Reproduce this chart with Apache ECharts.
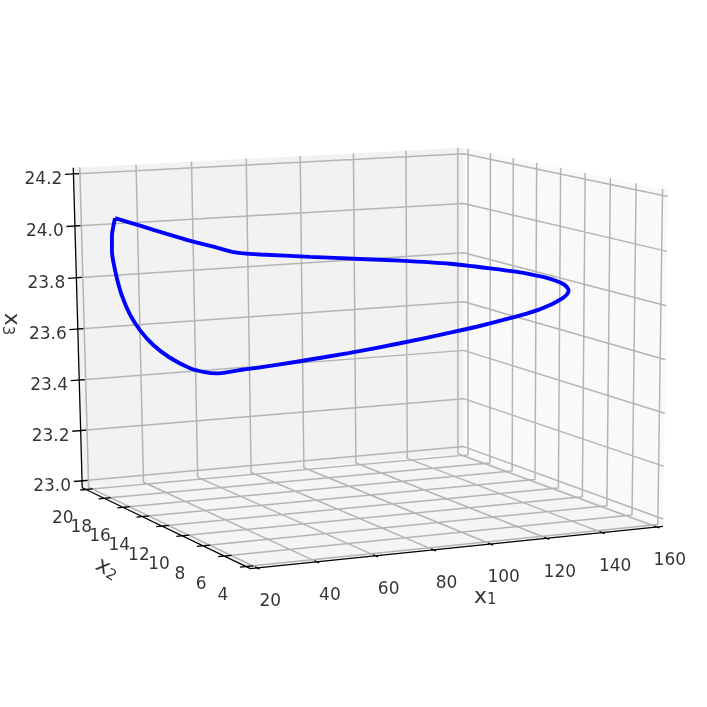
<!DOCTYPE html>
<html>
<head>
<meta charset="utf-8">
<script src="https://cdn.jsdelivr.net/npm/echarts@6/dist/echarts.min.js"></script>
<style>html,body{margin:0;padding:0;background:#fff}#container{width:707px;height:707px}</style>
</head>
<body>
<div id="container"></div>
<script>
var x1Ticks = [20, 40, 60, 80, 100, 120, 140, 160];
var x2Ticks = [4, 6, 8, 10, 12, 14, 16, 18, 20];
var x3Ticks = [23.0, 23.2, 23.4, 23.6, 23.8, 24.0, 24.2];
var x1Lim = [17.7, 162.3];
var x2Lim = [3.6, 20.4];
var x3Lim = [22.972, 24.224];

var curveX1 = [27.4, 35.2, 43.6, 52.0, 59.3, 64.0, 67.4, 72.4, 86.4, 100.7, 112.2, 125.6,
  136.1, 142.9, 145.5, 147.0, 148.0, 148.1, 147.9, 146.8, 145.0, 142.6, 140.4, 137.6,
  135.6, 132.9, 128.9, 122.7, 115.7, 108.7, 95.7, 82.4, 68.9, 59.6, 55.4, 51.3,
  48.8, 45.5, 42.6, 37.6, 33.8, 30.9, 28.9, 27.4, 26.5, 26.0, 26.5, 27.4];
var curveX2 = [19, 18.7, 18.4, 18.1, 17.8, 17.6, 17.4, 17.1, 16, 15, 14.2, 13,
  12, 11, 10.5, 10, 9.5, 9, 8.5, 8, 7.5, 7.1, 6.9, 6.8,
  6.9, 7.2, 7.3, 7.8, 8.4, 9, 10.2, 11.5, 12.8, 13.8, 14.3, 14.8,
  15.1, 15.5, 16, 16.6, 17.2, 17.7, 18.1, 18.5, 18.8, 19, 19.1, 19];
var curveX3 = [24.039, 24.009, 23.975, 23.943, 23.919, 23.902, 23.896, 23.892, 23.886, 23.880, 23.875, 23.868,
  23.855, 23.847, 23.842, 23.839, 23.835, 23.832, 23.828, 23.824, 23.818, 23.812, 23.804, 23.793,
  23.780, 23.761, 23.748, 23.722, 23.694, 23.669, 23.623, 23.578, 23.538, 23.510, 23.498, 23.483,
  23.477, 23.480, 23.489, 23.525, 23.569, 23.622, 23.677, 23.750, 23.830, 23.912, 23.974, 24.039];

// camera, same idea as a mplot3d view
var elev = 11.7, azim = -116.4, dist = 8.5;
var scaleX = 442, scaleY = 335, centerX = 364, centerY = 344.5, shiftX = -100;

function project(x1, x2, x3) {
  var a = azim * Math.PI / 180, e = elev * Math.PI / 180;
  var u = (x1 - x1Lim[0]) / (x1Lim[1] - x1Lim[0]) - 0.5;
  var v = (x2 - x2Lim[0]) / (x2Lim[1] - x2Lim[0]) - 0.5;
  var w = (x3 - x3Lim[0]) / (x3Lim[1] - x3Lim[0]) - 0.5;
  var depth = u * Math.cos(e) * Math.cos(a) + v * Math.cos(e) * Math.sin(a) + w * Math.sin(e);
  var sx = -u * Math.sin(a) + v * Math.cos(a);
  var sy = -u * Math.sin(e) * Math.cos(a) - v * Math.sin(e) * Math.sin(a) + w * Math.cos(e);
  var k = dist / (dist - depth);
  return [centerX + scaleX * sx * k + shiftX * (k - 1), centerY - scaleY * sy * k];
}

function segs(list) {
  var out = [];
  list.forEach(function (s) {
    s.forEach(function (p) { out.push(project(p[0], p[1], p[2])); });
    out.push([null, null]);
  });
  return out;
}

var x0 = x1Lim[0], x9 = x1Lim[1], y0 = x2Lim[0], y9 = x2Lim[1], z0 = x3Lim[0], z9 = x3Lim[1];

var panes = [
  { color: '#f2f2f2', pts: [[x0, y9, z0], [x9, y9, z0], [x9, y9, z9], [x0, y9, z9]] },
  { color: '#f9f9f9', pts: [[x9, y0, z0], [x9, y9, z0], [x9, y9, z9], [x9, y0, z9]] },
  { color: '#f5f5f5', pts: [[x0, y0, z0], [x9, y0, z0], [x9, y9, z0], [x0, y9, z0]] }
];

var gridSegs = [];
x1Ticks.forEach(function (t) { gridSegs.push([[t, y0, z0], [t, y9, z0], [t, y9, z9]]); });
x2Ticks.forEach(function (t) { gridSegs.push([[x0, t, z0], [x9, t, z0], [x9, t, z9]]); });
x3Ticks.forEach(function (t) { gridSegs.push([[x0, y9, t], [x9, y9, t], [x9, y0, t]]); });

var axisSegs = [
  [[x0, y0, z0], [x9, y0, z0]],
  [[x0, y0, z0], [x0, y9, z0]],
  [[x0, y9, z0], [x0, y9, z9]]
];
x1Ticks.forEach(function (t) { axisSegs.push([[t, y0 - 0.2, z0], [t, y0 + 0.2, z0]]); });
x2Ticks.forEach(function (t) { axisSegs.push([[x0 - 2, t, z0], [x0 + 2.5, t, z0]]); });
x3Ticks.forEach(function (t) { axisSegs.push([[x0 - 3, y9, t], [x0 + 2, y9, t]]); });

var curve = curveX1.map(function (v, i) { return project(v, curveX2[i], curveX3[i]); });

function textSeries(points, offset, font, rotate) {
  return {
    type: 'scatter', symbolSize: 0, silent: true, z: 6,
    data: points.map(function (p) {
      var pos = project(p[0], p[1], p[2]);
      return { value: [pos[0] + offset[0], pos[1] + offset[1]], name: p[3] };
    }),
    label: {
      show: true, position: 'inside', formatter: '{b}', rotate: rotate || 0,
      color: '#000', fontFamily: 'DejaVu Sans', fontSize: font
    }
  };
}

function titleSeries(point, offset, sub, rotate) {
  var s = textSeries([point], offset, 22, rotate);
  s.label.formatter = '{a|x}{b|' + sub + '}';
  s.label.rich = {
    a: { fontFamily: 'DejaVu Sans', fontSize: 22, color: '#000' },
    b: { fontFamily: 'DejaVu Sans', fontSize: 15, color: '#000', verticalAlign: 'bottom', lineHeight: 18, padding: [7, 0, 0, 0] }
  };
  return s;
}

var chart = echarts.init(document.getElementById('container'));
chart.setOption({
  animation: false,
  grid: { left: 0, right: 0, top: 0, bottom: 0 },
  xAxis: { type: 'value', min: 0, max: 707, show: false },
  yAxis: { type: 'value', min: 0, max: 707, inverse: true, show: false },
  series: [
    {
      type: 'custom', silent: true, z: 1, data: panes.map(function (p, i) { return [i]; }),
      renderItem: function (params, api) {
        var pane = panes[api.value(0)];
        return {
          type: 'polygon',
          shape: { points: pane.pts.map(function (p) { return api.coord(project(p[0], p[1], p[2])); }) },
          style: { fill: pane.color }
        };
      }
    },
    { type: 'line', silent: true, z: 2, symbol: 'none', data: segs(gridSegs), lineStyle: { color: '#b4b4b4', width: 1.5 } },
    { type: 'line', silent: true, z: 3, symbol: 'none', data: segs(axisSegs), lineStyle: { color: '#000', width: 1.3 } },
    { type: 'line', silent: true, z: 4, symbol: 'none', smooth: 0.2, data: curve, lineStyle: { color: '#0000ff', width: 3.9 } },
    textSeries(x1Ticks.map(function (t) { return [t, y0, z0, String(t)]; }), [13, 34], 17),
    textSeries(x2Ticks.map(function (t) { return [x0, t, z0, String(t)]; }), [-23, 29], 17),
    textSeries(x3Ticks.map(function (t) { return [x0, y9, t, t.toFixed(1)]; }), [-30, 6], 17),
    titleSeries([90, y0, z0, ''], [23, 50], '1', 0),
    titleSeries([x0, 12, z0, ''], [-55, 43], '2', -30),
    titleSeries([x0, y9, 23.6, ''], [-67, -5], '3', -90)
  ]
});
</script>
</body>
</html>
